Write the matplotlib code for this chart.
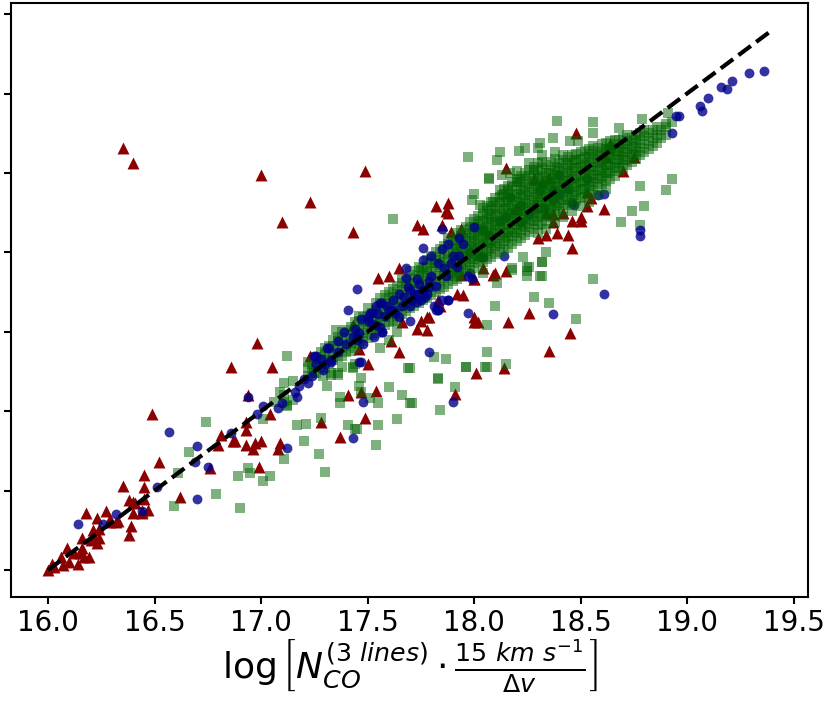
import matplotlib
matplotlib.use("Agg")
import matplotlib.pyplot as plt

# ---- red triangles ----
tri_x = [16.35, 16.40, 17.00, 17.49, 17.23, 17.10, 17.43, 17.73, 17.65, 17.55, 17.60,
         17.82, 17.88, 17.87, 17.88, 17.76, 17.85, 17.89, 17.94,
         18.04, 18.09, 18.15, 18.00, 17.92, 17.95, 17.83, 17.83, 17.79,
         17.75, 17.73, 17.78, 17.66, 17.43, 17.61, 17.65, 17.50, 17.46,
         18.00, 18.02, 18.16, 18.26, 18.35, 18.01, 18.14,
         18.19, 18.28, 18.30, 18.34, 18.39, 18.37, 18.34, 17.23,
         17.41, 17.47, 17.54, 17.49, 17.37, 17.28, 16.99, 16.93, 16.94, 17.04,
         16.93, 16.97, 17.00, 16.96, 17.09, 17.08, 16.88, 16.81, 16.80, 16.87, 16.93,
         17.78, 17.84, 17.91, 18.48, 18.15, 18.63, 18.70, 18.55, 18.61, 18.50, 18.46, 18.53,
         18.44, 18.46, 17.94, 18.10, 18.00, 18.53, 18.50, 18.35, 18.28, 18.32,
         18.37, 18.42, 18.64, 18.62, 18.20, 18.75, 18.45, 18.00,
         16.98, 16.86, 17.05, 16.49, 16.76, 16.52, 16.45, 16.35, 16.45, 16.62,
         16.45, 16.47, 16.44, 16.40, 16.38, 16.41, 16.40, 16.27, 16.23, 16.18,
         16.33, 16.29, 16.39, 16.38, 16.24, 16.21, 16.24, 16.21, 16.16,
         16.29, 16.32, 16.20, 16.23,
         16.09, 16.12, 16.06, 16.02, 16.00, 16.14, 16.19, 16.16, 16.10, 16.07, 16.17, 16.15, 16.03, 16.44]
tri_y = [18.66, 18.56, 18.49, 18.51, 18.32, 18.19, 18.13, 18.17, 17.90, 17.84, 17.85,
         18.29, 18.31, 18.26, 18.25, 18.15, 18.17, 18.13, 18.15,
         17.90, 17.86, 17.88, 17.83, 17.74, 17.73, 17.70, 17.67, 17.59,
         17.57, 17.52, 17.51, 17.56, 17.54, 17.44, 17.37, 17.30, 17.39,
         17.56, 17.56, 17.56, 17.62, 17.38, 17.24, 17.27,
         18.27, 18.29, 18.09, 18.11, 18.12, 18.19, 18.25, 17.35,
         17.10, 17.12, 17.13, 16.96, 16.84, 16.93, 16.65, 16.88, 17.10, 16.98,
         16.79, 16.80, 16.81, 16.76, 16.80, 16.76, 16.81, 16.85, 16.79, 16.81, 16.93,
         17.59, 17.66, 17.11, 18.75, 18.53, 18.66, 18.51, 18.34, 18.27, 18.22, 18.20, 18.38,
         18.11, 18.03, 17.86, 17.87, 17.59, 18.29, 18.20, 18.47, 18.46, 18.44,
         18.24, 18.25, 18.68, 18.60, 18.28, 18.60, 17.49, 17.83,
         17.43, 17.28, 17.28, 16.98, 16.64, 16.68, 16.60, 16.53, 16.52, 16.46,
         16.45, 16.38, 16.36, 16.43, 16.44, 16.42, 16.36, 16.37, 16.33, 16.36,
         16.31, 16.30, 16.28, 16.22, 16.26, 16.25, 16.20, 16.22, 16.20,
         16.32, 16.30, 16.19, 16.17,
         16.14, 16.11, 16.08, 16.04, 16.00, 16.04, 16.08, 16.14, 16.05, 16.03, 16.08, 16.11, 16.02, 16.37]

# ---- blue circles that sit inside the dark green core (drawn beneath the squares) ----
dot_low_x = [18.12, 18.22, 18.31, 18.40, 18.07, 18.15, 18.22, 18.37, 18.47, 18.53,
             18.04, 17.98, 18.17, 18.14, 18.46, 18.61, 18.58, 18.37, 18.40, 18.04,
             17.98, 18.03, 18.26, 18.33, 18.44]
dot_low_y = [18.20, 18.30, 18.39, 18.49, 18.11, 18.22, 18.19, 18.33, 18.30, 18.46,
             17.97, 17.87, 18.35, 17.98, 18.31, 18.37, 18.36, 18.39, 18.37, 18.14,
             18.00, 17.97, 18.24, 18.28, 18.40]

# ---- remaining blue circles ----
dot_x = [17.45, 17.41, 17.68, 19.36, 19.29, 19.21, 19.16, 19.19, 19.10, 19.06, 19.07,
         18.95, 18.96, 18.93, 18.78, 18.78, 18.61, 18.37, 17.97, 17.88, 17.76, 17.85,
         17.79, 17.90,
         17.52, 17.56, 17.50, 17.56, 17.57, 17.60, 17.45, 17.46, 17.31, 17.26, 17.33,
         17.85, 17.93, 18.00, 17.92, 17.97, 17.99, 17.81, 17.83,
         17.73, 17.69, 17.72, 17.65, 17.75, 17.70,
         17.32, 17.25, 17.26, 17.22, 17.24, 17.29, 17.33,
         16.94, 17.01, 16.98, 17.08, 17.10, 17.16, 17.17, 16.86, 17.12, 17.43, 17.48,
         17.47, 17.51, 17.50, 17.54, 17.57, 17.57, 17.53, 17.45, 17.48,
         17.62, 17.65, 17.70, 17.73, 17.78, 17.83, 17.85,
         16.57, 16.70, 16.69, 16.75, 16.70, 16.51, 16.44, 16.32, 16.26, 16.14,
         17.54, 17.46, 17.43,
         17.93, 17.88, 17.82, 17.79, 17.73, 17.83,
         17.58, 17.62, 17.66, 17.70, 17.74, 17.77, 17.80, 17.86, 17.90, 17.95,
         17.40, 17.36, 17.30, 17.28, 17.20, 17.18,
         17.36, 17.39, 17.44, 17.47, 17.52, 17.55, 17.59, 17.63, 17.67, 17.71,
         17.76, 17.79, 17.82, 17.87, 17.89, 17.76, 17.80, 17.68, 17.88]
dot_y = [17.77, 17.64, 17.90, 19.14, 19.13, 19.08, 19.04, 19.03, 18.97, 18.92, 18.89,
         18.86, 18.86, 18.75, 18.14, 18.10, 17.74, 17.61, 17.62, 17.70, 18.03, 18.15,
         17.37, 17.06,
         17.62, 17.68, 17.57, 17.53, 17.50, 17.64, 17.47, 17.31, 17.40, 17.35, 17.32,
         18.02, 18.09, 18.16, 17.91, 17.85, 17.83, 17.66, 17.64,
         17.83, 17.78, 17.74, 17.74, 17.70, 17.66,
         17.40, 17.35, 17.30, 17.18, 17.22, 17.26, 17.31,
         17.09, 17.03, 16.98, 17.02, 17.05, 17.12, 17.09, 16.86, 16.77, 16.83, 17.06,
         17.31, 17.62, 17.59, 17.54, 17.50, 17.68, 17.47, 17.45, 17.42,
         17.64, 17.59, 17.57, 17.69, 17.74, 17.64, 17.70,
         16.87, 16.78, 16.68, 16.65, 16.45, 16.52, 16.37, 16.35, 16.29, 16.29,
         17.66, 17.49, 17.47,
         17.98, 17.70, 17.64, 17.78, 17.74, 17.93,
         17.60, 17.70, 17.66, 17.76, 17.80, 17.72, 17.85, 17.90, 17.98, 18.05,
         17.42, 17.37, 17.30, 17.33, 17.20, 17.16,
         17.44, 17.50, 17.52, 17.58, 17.55, 17.61, 17.66, 17.62, 17.72, 17.70,
         17.76, 17.82, 17.79, 17.85, 17.93, 17.95, 17.98, 17.84, 18.05]

# ---- green squares, scattered ----
sq_x = [17.35, 17.12, 17.11, 17.15, 17.31, 17.69, 17.60, 17.66, 17.70, 17.64, 17.55, 17.54,
        17.45, 17.41, 17.37, 17.37, 17.51, 17.47, 17.46, 17.47, 17.43, 17.38, 17.36, 17.33,
        17.17, 17.21, 17.28, 17.20, 17.11, 17.27, 17.30, 16.94, 16.95, 16.89, 17.04, 17.01,
        16.79, 16.90, 16.59, 16.66, 16.61, 16.74, 17.01, 17.06, 17.11, 17.12,
        17.56, 17.64, 17.64, 17.60, 17.55, 17.44,
        17.83, 17.87, 17.84, 17.91, 17.96, 18.05, 18.06, 18.06,
        17.33, 17.36, 17.43, 17.44, 17.29, 17.25, 17.09, 17.11, 17.12, 17.15,
        17.62, 18.10, 18.28, 18.35, 18.15, 17.83,
        18.34, 18.32, 18.31, 18.26, 18.25, 18.23, 18.18,
        18.00, 17.99, 18.03, 18.09, 18.13, 18.16, 18.20, 18.07,
        18.39, 18.56, 18.56, 18.68, 18.79, 18.91, 18.93, 18.90,
        17.97, 18.12, 18.11, 18.21, 18.24, 18.30, 18.31, 18.37, 18.45, 18.49,
        18.07, 18.13, 18.17, 18.21,
        18.78, 18.93, 18.90, 18.74, 18.80, 18.69, 18.78, 18.56, 18.48,
        18.18, 18.25, 18.32, 18.32, 18.25, 18.11, 18.04, 17.90, 17.93, 17.81, 17.75,
        18.06, 17.96, 17.81, 17.71, 17.70, 18.28]
sq_y = [17.51, 17.35, 17.18, 17.19, 17.16, 17.27, 17.15, 17.10, 17.05, 16.95, 16.91, 16.79,
        16.89, 16.91, 17.09, 17.05, 17.08, 17.21, 17.16, 17.12, 17.27, 17.28, 17.23, 17.23,
        16.91, 16.92, 16.96, 16.81, 16.70, 16.73, 16.62, 16.64, 16.61, 16.59, 16.59, 16.56,
        16.48, 16.39, 16.40, 16.74, 16.61, 16.93, 16.95, 17.06, 17.06, 17.04,
        17.40, 17.50, 17.56, 17.45, 17.05, 16.89,
        17.20, 17.33, 17.01, 17.15, 17.28, 17.28, 17.37, 17.54,
        17.24, 17.24, 17.28, 17.30, 17.22, 17.24, 17.12, 17.10, 17.03, 17.07,
        18.21, 17.66, 17.72, 17.68, 17.30, 17.21,
        18.00, 17.94, 17.85, 17.91, 17.88, 17.97, 17.89,
        18.37, 18.33, 18.30, 18.32, 18.36, 18.39, 18.44, 18.46,
        18.83, 18.82, 18.75, 18.78, 18.84, 18.88, 18.82, 18.81,
        18.60, 18.63, 18.58, 18.64, 18.66, 18.66, 18.69, 18.72, 18.70, 18.70,
        18.47, 18.49, 18.50, 18.46,
        18.42, 18.46, 18.39, 18.26, 18.29, 18.19, 18.17, 17.83, 17.58,
        17.90, 17.91, 17.94, 17.85, 17.85, 17.81, 17.87, 17.85, 17.88, 17.93, 17.89,
        17.28, 17.28, 17.34, 17.05, 17.27, 18.52]

# ---- green squares, dense band ----
band_x = [17.22, 17.22, 17.22, 17.24, 17.24, 17.26, 17.26, 17.26, 17.28, 17.28, 17.28,
          17.30, 17.30, 17.30, 17.30, 17.32, 17.32, 17.32, 17.34, 17.34, 17.34, 17.34,
          17.36, 17.36, 17.36, 17.36, 17.38, 17.38, 17.38, 17.38, 17.40, 17.40, 17.40, 17.40,
          17.42, 17.42, 17.42, 17.42, 17.44, 17.44, 17.44, 17.44,
          17.46, 17.46, 17.46, 17.46, 17.46, 17.48, 17.48, 17.48, 17.48,
          17.50, 17.50, 17.50, 17.50, 17.50, 17.52, 17.52, 17.52, 17.52,
          17.54, 17.54, 17.54, 17.54, 17.54, 17.56, 17.56, 17.56, 17.56, 17.56,
          17.58, 17.58, 17.58, 17.58, 17.58, 17.60, 17.60, 17.60, 17.60, 17.60,
          17.62, 17.62, 17.62, 17.62, 17.62, 17.64, 17.64, 17.64, 17.64, 17.64,
          17.66, 17.66, 17.66, 17.66, 17.66, 17.66, 17.68, 17.68, 17.68, 17.68, 17.68,
          17.70, 17.70, 17.70, 17.70, 17.70, 17.70, 17.72, 17.72, 17.72, 17.72, 17.72,
          17.74, 17.74, 17.74, 17.74, 17.74, 17.74, 17.76, 17.76, 17.76, 17.76, 17.76,
          17.78, 17.78, 17.78, 17.78, 17.78, 17.78, 17.80, 17.80, 17.80, 17.80, 17.80, 17.80,
          17.82, 17.82, 17.82, 17.82, 17.82, 17.82, 17.84, 17.84, 17.84, 17.84, 17.84, 17.84,
          17.86, 17.86, 17.86, 17.86, 17.86, 17.86,
          17.88, 17.88, 17.88, 17.88, 17.88, 17.88, 17.88,
          17.90, 17.90, 17.90, 17.90, 17.90, 17.90,
          17.92, 17.92, 17.92, 17.92, 17.92, 17.92, 17.92,
          17.94, 17.94, 17.94, 17.94, 17.94, 17.94, 17.94,
          17.96, 17.96, 17.96, 17.96, 17.96, 17.96, 17.96,
          17.98, 17.98, 17.98, 17.98, 17.98, 17.98, 17.98,
          18.00, 18.00, 18.00, 18.00, 18.00, 18.00, 18.00,
          18.02, 18.02, 18.02, 18.02, 18.02, 18.02, 18.02,
          18.04, 18.04, 18.04, 18.04, 18.04, 18.04, 18.04, 18.04,
          18.06, 18.06, 18.06, 18.06, 18.06, 18.06, 18.06, 18.06,
          18.08, 18.08, 18.08, 18.08, 18.08, 18.08, 18.08, 18.08,
          18.10, 18.10, 18.10, 18.10, 18.10, 18.10, 18.10, 18.10,
          18.12, 18.12, 18.12, 18.12, 18.12, 18.12, 18.12, 18.12, 18.12,
          18.14, 18.14, 18.14, 18.14, 18.14, 18.14, 18.14, 18.14, 18.14,
          18.16, 18.16, 18.16, 18.16, 18.16, 18.16, 18.16, 18.16, 18.16,
          18.18, 18.18, 18.18, 18.18, 18.18, 18.18, 18.18, 18.18, 18.18,
          18.20, 18.20, 18.20, 18.20, 18.20, 18.20, 18.20, 18.20, 18.20, 18.20,
          18.22, 18.22, 18.22, 18.22, 18.22, 18.22, 18.22, 18.22, 18.22,
          18.24, 18.24, 18.24, 18.24, 18.24, 18.24, 18.24, 18.24, 18.24,
          18.26, 18.26, 18.26, 18.26, 18.26, 18.26, 18.26, 18.26, 18.26, 18.26,
          18.28, 18.28, 18.28, 18.28, 18.28, 18.28, 18.28, 18.28, 18.28,
          18.30, 18.30, 18.30, 18.30, 18.30, 18.30, 18.30, 18.30, 18.30, 18.30,
          18.32, 18.32, 18.32, 18.32, 18.32, 18.32, 18.32, 18.32, 18.32, 18.32,
          18.34, 18.34, 18.34, 18.34, 18.34, 18.34, 18.34, 18.34, 18.34,
          18.36, 18.36, 18.36, 18.36, 18.36, 18.36, 18.36, 18.36,
          18.38, 18.38, 18.38, 18.38, 18.38, 18.38, 18.38, 18.38, 18.38, 18.38,
          18.40, 18.40, 18.40, 18.40, 18.40, 18.40, 18.40,
          18.42, 18.42, 18.42, 18.42, 18.42, 18.42, 18.42, 18.42, 18.42,
          18.44, 18.44, 18.44, 18.44, 18.44, 18.44, 18.44,
          18.46, 18.46, 18.46, 18.46, 18.46, 18.46, 18.46, 18.46,
          18.48, 18.48, 18.48, 18.48, 18.48, 18.48, 18.48,
          18.50, 18.50, 18.50, 18.50, 18.50, 18.50, 18.50, 18.50,
          18.52, 18.52, 18.52, 18.52, 18.52, 18.52, 18.52,
          18.54, 18.54, 18.54, 18.54, 18.54, 18.54, 18.54, 18.54,
          18.56, 18.56, 18.56, 18.56, 18.56, 18.56, 18.56,
          18.58, 18.58, 18.58, 18.58, 18.58, 18.58, 18.58,
          18.60, 18.60, 18.60, 18.60, 18.60, 18.60,
          18.62, 18.62, 18.62, 18.62, 18.62, 18.62, 18.62,
          18.64, 18.64, 18.64, 18.64, 18.64, 18.64,
          18.66, 18.66, 18.66, 18.66, 18.66, 18.66,
          18.68, 18.68, 18.68, 18.68, 18.68, 18.70, 18.70, 18.70, 18.70, 18.70,
          18.72, 18.72, 18.72, 18.72, 18.72, 18.74, 18.74, 18.74, 18.74,
          18.76, 18.76, 18.76, 18.76, 18.78, 18.78, 18.78, 18.78,
          18.80, 18.80, 18.80, 18.80, 18.82, 18.82, 18.82, 18.84, 18.84, 18.84,
          18.86, 18.86, 18.86, 18.88, 18.88, 18.90, 18.90]
band_y = [17.22, 17.27, 17.31, 17.25, 17.30, 17.24, 17.29, 17.34, 17.28, 17.33, 17.37,
          17.27, 17.32, 17.36, 17.40, 17.30, 17.35, 17.41, 17.32, 17.36, 17.41, 17.45,
          17.34, 17.39, 17.44, 17.47, 17.35, 17.40, 17.45, 17.50, 17.37, 17.41, 17.46, 17.51,
          17.38, 17.43, 17.48, 17.53, 17.40, 17.46, 17.50, 17.56,
          17.42, 17.47, 17.52, 17.57, 17.60, 17.44, 17.49, 17.55, 17.59,
          17.46, 17.51, 17.56, 17.60, 17.65, 17.48, 17.53, 17.57, 17.62,
          17.49, 17.55, 17.60, 17.64, 17.68, 17.52, 17.57, 17.61, 17.66, 17.71,
          17.54, 17.59, 17.64, 17.68, 17.73, 17.56, 17.61, 17.65, 17.71, 17.75,
          17.57, 17.63, 17.68, 17.72, 17.77, 17.60, 17.65, 17.69, 17.74, 17.79,
          17.61, 17.66, 17.71, 17.76, 17.81, 17.84, 17.63, 17.68, 17.73, 17.78, 17.82,
          17.65, 17.69, 17.75, 17.80, 17.84, 17.88, 17.66, 17.72, 17.77, 17.81, 17.86,
          17.68, 17.73, 17.79, 17.83, 17.88, 17.91, 17.70, 17.75, 17.80, 17.85, 17.90,
          17.71, 17.77, 17.82, 17.87, 17.91, 17.95, 17.73, 17.78, 17.84, 17.88, 17.93, 17.98,
          17.75, 17.80, 17.85, 17.91, 17.95, 18.00, 17.77, 17.82, 17.87, 17.92, 17.97, 18.02,
          17.78, 17.84, 17.89, 17.94, 17.99, 18.04,
          17.80, 17.85, 17.91, 17.96, 18.00, 18.05, 18.09,
          17.82, 17.87, 17.92, 17.97, 18.02, 18.07,
          17.83, 17.88, 17.94, 17.99, 18.03, 18.08, 18.12,
          17.85, 17.90, 17.95, 18.00, 18.06, 18.10, 18.14,
          17.87, 17.92, 17.97, 18.02, 18.07, 18.12, 18.16,
          17.89, 17.94, 17.99, 18.04, 18.09, 18.15, 18.19,
          17.90, 17.96, 18.01, 18.06, 18.11, 18.16, 18.21,
          17.93, 17.98, 18.03, 18.08, 18.13, 18.18, 18.23,
          17.94, 17.99, 18.05, 18.09, 18.14, 18.20, 18.24, 18.28,
          17.96, 18.01, 18.06, 18.11, 18.16, 18.21, 18.26, 18.29,
          17.97, 18.03, 18.07, 18.12, 18.18, 18.22, 18.27, 18.32,
          17.99, 18.04, 18.09, 18.14, 18.19, 18.24, 18.29, 18.34,
          18.00, 18.05, 18.11, 18.15, 18.20, 18.25, 18.31, 18.35, 18.39,
          18.02, 18.07, 18.12, 18.17, 18.22, 18.27, 18.32, 18.37, 18.40,
          18.03, 18.09, 18.13, 18.18, 18.24, 18.28, 18.33, 18.38, 18.42,
          18.05, 18.10, 18.15, 18.20, 18.25, 18.30, 18.35, 18.41, 18.44,
          18.07, 18.12, 18.17, 18.22, 18.27, 18.32, 18.37, 18.42, 18.46, 18.51,
          18.09, 18.14, 18.19, 18.24, 18.29, 18.35, 18.39, 18.44, 18.48,
          18.11, 18.16, 18.21, 18.26, 18.31, 18.36, 18.41, 18.46, 18.50,
          18.13, 18.18, 18.23, 18.28, 18.33, 18.38, 18.43, 18.48, 18.52, 18.56,
          18.15, 18.20, 18.25, 18.30, 18.35, 18.40, 18.45, 18.50, 18.54,
          18.12, 18.17, 18.22, 18.27, 18.32, 18.37, 18.42, 18.47, 18.52, 18.56,
          18.18, 18.23, 18.28, 18.33, 18.38, 18.43, 18.48, 18.53, 18.57, 18.61,
          18.15, 18.20, 18.25, 18.30, 18.35, 18.40, 18.45, 18.50, 18.55,
          18.22, 18.27, 18.32, 18.37, 18.42, 18.47, 18.52, 18.57,
          18.19, 18.24, 18.29, 18.34, 18.39, 18.44, 18.49, 18.54, 18.59, 18.63,
          18.26, 18.31, 18.36, 18.41, 18.46, 18.51, 18.56,
          18.22, 18.28, 18.33, 18.38, 18.43, 18.48, 18.53, 18.58, 18.61,
          18.30, 18.35, 18.40, 18.45, 18.50, 18.55, 18.60,
          18.26, 18.31, 18.36, 18.41, 18.46, 18.51, 18.56, 18.61,
          18.33, 18.38, 18.43, 18.48, 18.53, 18.58, 18.62,
          18.29, 18.34, 18.39, 18.44, 18.49, 18.54, 18.59, 18.63,
          18.35, 18.40, 18.45, 18.50, 18.55, 18.60, 18.64,
          18.32, 18.37, 18.42, 18.47, 18.52, 18.57, 18.62, 18.65,
          18.39, 18.44, 18.49, 18.54, 18.59, 18.64, 18.67,
          18.36, 18.41, 18.46, 18.51, 18.56, 18.61, 18.66,
          18.43, 18.48, 18.53, 18.58, 18.63, 18.68,
          18.40, 18.45, 18.50, 18.55, 18.60, 18.65, 18.69,
          18.46, 18.51, 18.56, 18.61, 18.66, 18.70,
          18.48, 18.53, 18.58, 18.63, 18.68, 18.71,
          18.51, 18.56, 18.61, 18.66, 18.71, 18.53, 18.58, 18.63, 18.68, 18.72,
          18.55, 18.60, 18.65, 18.70, 18.74, 18.57, 18.62, 18.67, 18.72,
          18.59, 18.64, 18.69, 18.74, 18.61, 18.66, 18.71, 18.75,
          18.63, 18.68, 18.73, 18.77, 18.65, 18.70, 18.75, 18.67, 18.72, 18.77,
          18.69, 18.74, 18.79, 18.72, 18.77, 18.74, 18.79]

# ---- green squares, the darkest part of the band (in between the columns above) ----
core_x = [17.91, 17.91, 17.91, 17.91, 17.95, 17.95, 17.95, 17.95, 17.99, 17.99, 17.99, 17.99,
          18.03, 18.03, 18.03, 18.03, 18.03, 18.07, 18.07, 18.07, 18.07, 18.07,
          18.11, 18.11, 18.11, 18.11, 18.11, 18.15, 18.15, 18.15, 18.15, 18.15,
          18.19, 18.19, 18.19, 18.19, 18.19, 18.23, 18.23, 18.23, 18.23, 18.23,
          18.27, 18.27, 18.27, 18.27, 18.27, 18.31, 18.31, 18.31, 18.31, 18.31,
          18.35, 18.35, 18.35, 18.35, 18.35, 18.39, 18.39, 18.39, 18.39, 18.39,
          18.43, 18.43, 18.43, 18.43, 18.43, 18.47, 18.47, 18.47, 18.47, 18.47,
          18.51, 18.51, 18.51, 18.51, 18.55, 18.55, 18.55, 18.55,
          18.59, 18.59, 18.59, 18.59, 18.63, 18.63, 18.63, 18.63,
          18.67, 18.67, 18.67, 18.71, 18.71, 18.71, 18.75, 18.75, 18.75]
core_y = [17.89, 17.95, 18.00, 18.05, 17.93, 17.98, 18.03, 18.09, 17.96, 18.02, 18.07, 18.12,
          17.98, 18.04, 18.10, 18.15, 18.20, 18.02, 18.08, 18.13, 18.19, 18.24,
          18.06, 18.12, 18.17, 18.23, 18.28, 18.09, 18.15, 18.21, 18.26, 18.32,
          18.13, 18.19, 18.24, 18.30, 18.36, 18.17, 18.22, 18.28, 18.34, 18.40,
          18.20, 18.26, 18.32, 18.38, 18.44, 18.24, 18.30, 18.35, 18.41, 18.47,
          18.27, 18.33, 18.39, 18.44, 18.50, 18.30, 18.36, 18.42, 18.47, 18.53,
          18.33, 18.39, 18.45, 18.50, 18.56, 18.36, 18.42, 18.47, 18.53, 18.58,
          18.40, 18.45, 18.51, 18.56, 18.43, 18.49, 18.54, 18.60,
          18.47, 18.52, 18.57, 18.62, 18.50, 18.55, 18.60, 18.65,
          18.54, 18.59, 18.64, 18.58, 18.63, 18.68, 18.61, 18.66, 18.71]

# one-to-one reference line
line_x = [16.0, 19.39]
line_y = [16.0, 19.39]

xticks = [16.0, 16.5, 17.0, 17.5, 18.0, 18.5, 19.0, 19.5]

fig = plt.figure(figsize=(8.31, 7.11), dpi=100)
ax = fig.add_axes([11 / 831, 114 / 711, 797 / 831, 594 / 711])

ax.scatter(tri_x, tri_y, marker='^', s=74, color='darkred', linewidths=0, zorder=2)
ax.scatter(dot_low_x, dot_low_y, marker='o', s=50, color='darkblue', alpha=0.8,
           linewidths=0, zorder=3)
ax.scatter(band_x + core_x + sq_x, band_y + core_y + sq_y, marker='s', s=46,
           color='darkgreen', alpha=0.5, linewidths=0, zorder=4)
ax.scatter(dot_x, dot_y, marker='o', s=50, color='darkblue', alpha=0.8,
           linewidths=0, zorder=4.5)
ax.plot(line_x, line_y, 'k--', linewidth=3, zorder=5)

ax.set_xlim(15.826, 19.568)
ax.set_ylim(15.83, 19.57)
ax.set_xticks(xticks)
ax.set_yticks(xticks)
ax.tick_params(labelleft=False, labelsize=20, length=5, width=1.5)
for sp in ax.spines.values():
    sp.set_linewidth(1.5)

ax.set_xlabel(r'$\log\left[N_{CO}^{(3\ lines)}\cdot\frac{15\ km\ s^{-1}}{\Delta v}\right]$',
              fontsize=26, labelpad=0)

fig.savefig('out.png', dpi=100)
